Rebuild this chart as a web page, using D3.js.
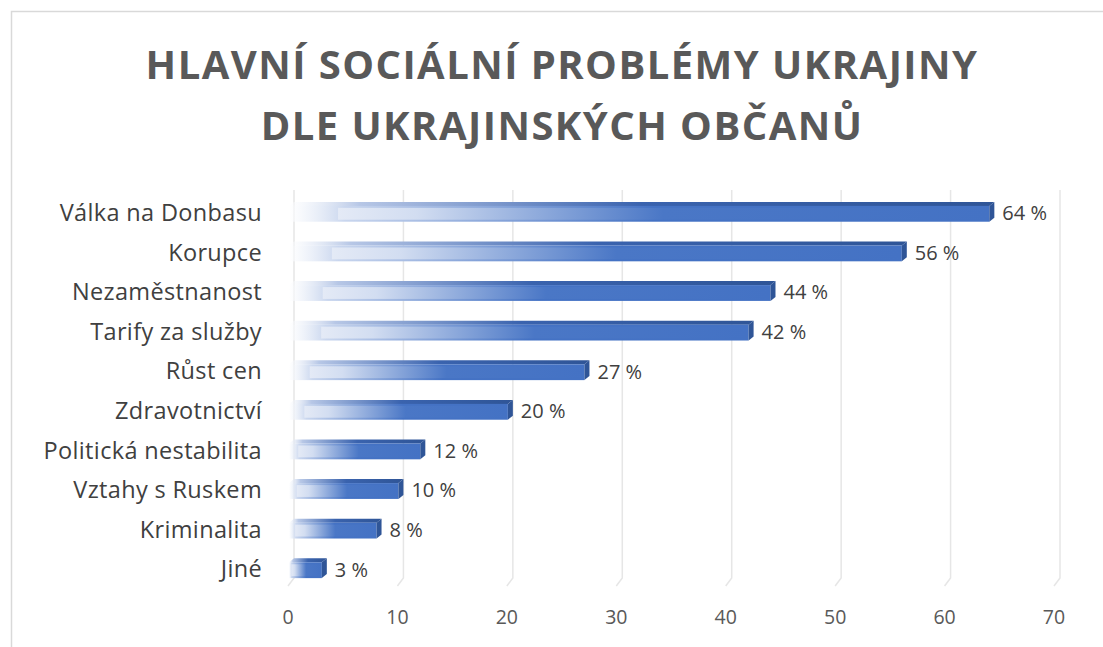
<!DOCTYPE html>
<html><head><meta charset="utf-8">
<script src="https://cdn.jsdelivr.net/npm/d3@7"></script>
<style>body{margin:0;background:#fff}svg{display:block}</style>
</head><body><svg id="c" width="1103" height="647"></svg>
<script>
const categories = ["Válka na Donbasu","Korupce","Nezaměstnanost","Tarify za služby","Růst cen","Zdravotnictví","Politická nestabilita","Vztahy s Ruskem","Kriminalita","Jiné"];
const values = [64,56,44,42,27,20,12,10,8,3];
const ticks = [0,10,20,30,40,50,60,70];
const titleLines = ["HLAVNÍ SOCIÁLNÍ PROBLÉMY UKRAJINY","DLE UKRAJINSKÝCH OBČANŮ"];

const svg = d3.select("#c");
const font = "'Open Sans', 'Noto Sans', sans-serif";
svg.append("rect").attr("x",11.5).attr("y",11.5).attr("width",1100).attr("height",640)
  .attr("fill","#fff").attr("stroke","#d9d9d9").attr("stroke-width",1.5);

const t = svg.append("g");
titleLines.forEach((l,i)=>{
  t.append("text").attr("x",562).attr("y",79+i*61).attr("text-anchor","middle")
   .attr("font-family",font).attr("font-weight",700).attr("font-size",40)
   .attr("letter-spacing",1.45).attr("fill","#595959").text(l);
});

const x = d3.scaleLinear().domain([0,70]).range([289,1055]);
const y = d3.scaleBand().domain(categories).range([194,590]).paddingInner(0.6).paddingOuter(0.3);
const dx = 5, dy = 4;

const grid = svg.append("g");
ticks.forEach(v=>{
  const gx = x(v)+dx;
  grid.append("path").attr("d",`M${gx},190 L${gx},578 L${gx-6},586`)
    .attr("fill","none").attr("stroke","#e6e6e6").attr("stroke-width",1.5);
});

const defs = svg.append("defs");
const gA = defs.append("linearGradient").attr("id","gA");
[[0,"#ffffff",0.6],[0.08,"#c9d6ee",1],[0.52,"#4472C4",1],[1,"#4472C4",1]].forEach(s=>gA.append("stop").attr("offset",s[0]).attr("stop-color",s[1]).attr("stop-opacity",s[2]));
const gB = defs.append("linearGradient").attr("id","gB");
[[0,"#e4eaf6",1],[0.12,"#d2ddf1",1],[0.5,"#4a77c6",1],[1,"#4472C4",1]].forEach(s=>gB.append("stop").attr("offset",s[0]).attr("stop-color",s[1]).attr("stop-opacity",s[2]));
const gT = defs.append("linearGradient").attr("id","gT");
[[0,"#ffffff",0.5],[0.1,"#b7c7e6",1],[0.5,"#3a63ae",1],[1,"#2f5597",1]].forEach(s=>gT.append("stop").attr("offset",s[0]).attr("stop-color",s[1]).attr("stop-opacity",s[2]));

const bars = svg.append("g");
categories.forEach((c,i)=>{
  const v = values[i];
  const x0 = x(0), x1 = x(v);
  const yt = y(c), h = y.bandwidth();
  const yb = yt + h;
  const g = bars.append("g");
  g.append("path").attr("d",`M${x0},${yt} L${x0+dx},${yt-dy} L${x1+dx},${yt-dy} L${x1},${yt} Z`).attr("fill","url(#gT)");
  g.append("rect").attr("x",x0).attr("y",yt).attr("width",x1-x0).attr("height",h).attr("fill","url(#gA)");
  const off = (x1-x0)*0.07;
  g.append("rect").attr("x",x0+off).attr("y",yt+2).attr("width",x1-x0-off-1).attr("height",h-4).attr("fill","url(#gB)");
  g.append("path").attr("d",`M${x1},${yt} L${x1+dx},${yt-dy} L${x1+dx},${yb-dy} L${x1},${yb} Z`).attr("fill","#2f5597");
  bars.append("text").attr("x",x1+13).attr("y",yt+h/2+1).attr("dominant-baseline","middle")
    .attr("font-family",font).attr("font-size",20).attr("fill","#404040").text(v+" %");
  svg.append("text").attr("x",262).attr("y",yt+h/2+1).attr("dominant-baseline","middle").attr("text-anchor","end")
    .attr("font-family",font).attr("font-size",23.5).attr("letter-spacing",0.35).attr("fill","#404040").text(c);
});

ticks.forEach(v=>{
  svg.append("text").attr("x",x(v)-1).attr("y",619).attr("dominant-baseline","middle").attr("text-anchor","middle")
    .attr("font-family",font).attr("font-size",19.5).attr("fill","#595959").text(v);
});
</script></body></html>
